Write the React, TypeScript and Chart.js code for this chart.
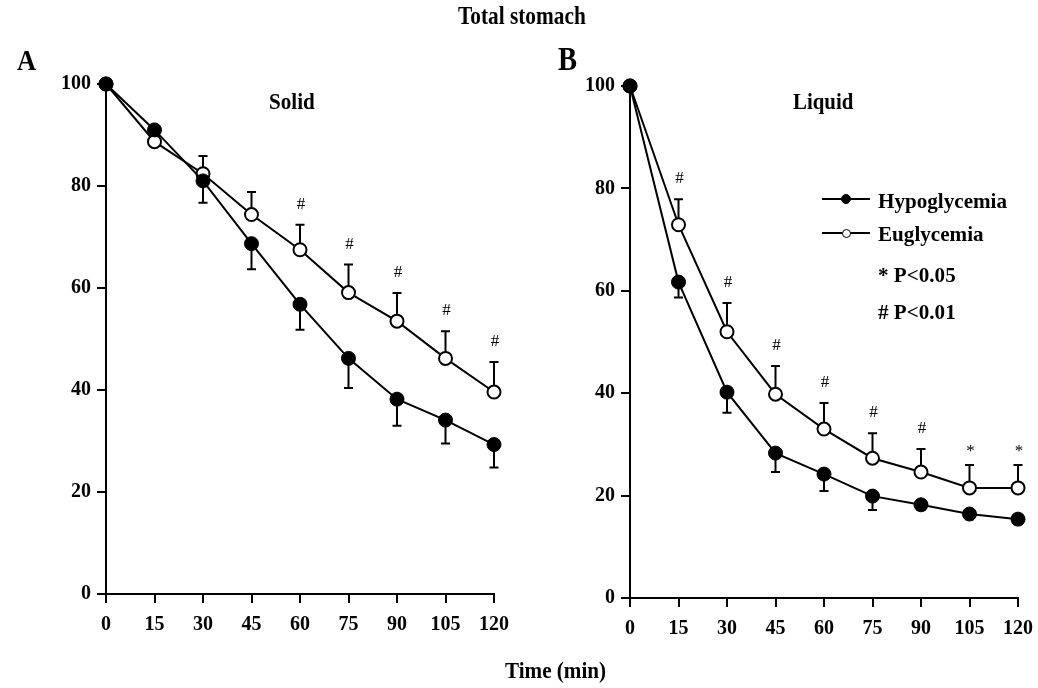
import React, { useEffect, useRef } from 'react';
import { Chart, registerables } from 'chart.js';
Chart.register(...registerables);

const times = [0, 15, 30, 45, 60, 75, 90, 105, 120];
const yTicks = [0, 20, 40, 60, 80, 100];

const solidHypo = [100, 91, 81, 68.7, 56.8, 46.2, 38.2, 34.1, 29.3];
const solidHypoErr = [0, 1, 4.3, 5, 5, 5.8, 5.2, 4.6, 4.5];
const solidEu = [100, 88.7, 82.4, 74.4, 67.5, 59.1, 53.5, 46.2, 39.6];
const solidEuErr = [0, 1, 3.5, 4.4, 4.9, 5.5, 5.5, 5.3, 5.9];
const solidSig = ['', '', '', '', '#', '#', '#', '#', '#'];

const liquidHypo = [100, 61.7, 40.2, 28.3, 24.2, 19.9, 18.2, 16.4, 15.4];
const liquidHypoErr = [0, 3, 4, 3.7, 3.3, 2.7, 1, 1, 1];
const liquidEu = [100, 72.9, 52, 39.8, 33, 27.3, 24.6, 21.5, 21.5];
const liquidEuErr = [0, 5, 5.6, 5.5, 5.1, 4.9, 4.5, 4.5, 4.5];
const liquidSig = ['', '#', '#', '#', '#', '#', '#', '*', '*'];

const seriesNames = ['Hypoglycemia', 'Euglycemia'];
const sigNotes = ['* P<0.05', '# P<0.01'];

const SERIF = '"Liberation Serif", "Times New Roman", serif';
const CW = 560;
const CH = 688;

type PanelProps = {
  left: number;
  area: { left: number; right: number; top: number; bottom: number };
  hypo: number[];
  hypoErr: number[];
  eu: number[];
  euErr: number[];
  sig: string[];
};

function Panel({ left, area, hypo, hypoErr, eu, euErr, sig }: PanelProps) {
  const ref = useRef<HTMLCanvasElement | null>(null);
  useEffect(() => {
    if (!ref.current) return;
    const xH = 50;
    const errPlugin = {
      id: 'errbars',
      beforeDatasetsDraw(chart: any) {
        const { ctx } = chart;
        const x = chart.scales.x;
        const y = chart.scales.y;
        ctx.save();
        ctx.strokeStyle = '#000';
        ctx.lineWidth = 2;
        times.forEach((t, i) => {
          const px = x.getPixelForValue(t);
          if (hypoErr[i] > 0) {
            const y0 = y.getPixelForValue(hypo[i]);
            const y1 = y.getPixelForValue(hypo[i] - hypoErr[i]);
            ctx.beginPath();
            ctx.moveTo(px, y0);
            ctx.lineTo(px, y1);
            ctx.moveTo(px - 4.5, y1);
            ctx.lineTo(px + 4.5, y1);
            ctx.stroke();
          }
          if (euErr[i] > 0) {
            const y0 = y.getPixelForValue(eu[i]);
            const y1 = y.getPixelForValue(eu[i] + euErr[i]);
            ctx.beginPath();
            ctx.moveTo(px, y0);
            ctx.lineTo(px, y1);
            ctx.moveTo(px - 4.5, y1);
            ctx.lineTo(px + 4.5, y1);
            ctx.stroke();
            if (sig[i]) {
              ctx.fillStyle = '#000';
              ctx.font = `17px ${SERIF}`;
              ctx.textAlign = 'center';
              ctx.textBaseline = 'alphabetic';
              ctx.fillText(sig[i], px + 1, y1 - (sig[i] === '*' ? 9 : 16));
            }
          }
        });
        ctx.restore();
      },
    };
    const tickFont = { family: SERIF, size: 20, weight: 'bold' as const };
    const chart = new Chart(ref.current, {
      type: 'line',
      data: {
        datasets: [
          {
            label: seriesNames[0],
            data: times.map((t, i) => ({ x: t, y: hypo[i] })),
            borderColor: '#000',
            borderWidth: 2,
            pointRadius: 7,
            pointBackgroundColor: '#000',
            pointBorderColor: '#000',
            pointBorderWidth: 1,
            tension: 0,
            clip: false as any,
          },
          {
            label: seriesNames[1],
            data: times.map((t, i) => ({ x: t, y: eu[i] })),
            borderColor: '#000',
            borderWidth: 2,
            pointRadius: 6.5,
            pointBackgroundColor: '#fff',
            pointBorderColor: '#000',
            pointBorderWidth: 2,
            tension: 0,
            clip: false as any,
          },
        ],
      },
      options: {
        responsive: false,
        animation: false,
        devicePixelRatio: 1,
        events: [],
        layout: {
          padding: {
            left: 0,
            top: area.top,
            right: CW - area.right,
            bottom: CH - area.bottom - xH,
          },
        },
        plugins: { legend: { display: false }, tooltip: { enabled: false }, title: { display: false } },
        scales: {
          x: {
            type: 'linear',
            min: 0,
            max: 120,
            afterFit: (s: any) => {
              s.height = xH;
            },
            afterBuildTicks: (s: any) => {
              s.ticks = times.map((v) => ({ value: v }));
            },
            ticks: { font: tickFont, color: '#000', padding: 10, maxRotation: 0, autoSkip: false },
            grid: { display: true, drawOnChartArea: false, drawTicks: true, tickLength: 9, color: '#000', lineWidth: 2 },
            border: { display: true, color: '#000', width: 2 },
          },
          y: {
            type: 'linear',
            min: 0,
            max: 100,
            afterFit: (s: any) => {
              s.width = area.left;
            },
            afterBuildTicks: (s: any) => {
              s.ticks = yTicks.map((v) => ({ value: v }));
            },
            ticks: { font: tickFont, color: '#000', padding: 6 },
            grid: { display: true, drawOnChartArea: false, drawTicks: true, tickLength: 9, color: '#000', lineWidth: 2 },
            border: { display: true, color: '#000', width: 2 },
          },
        },
      },
      plugins: [errPlugin],
    });
    return () => chart.destroy();
  }, []);
  return (
    <canvas
      ref={ref}
      width={CW}
      height={CH}
      style={{ position: 'absolute', left, top: 0, width: CW, height: CH }}
    />
  );
}

function Label({ text, x, base, size, sx }: { text: string; x: number; base: number; size: number; sx: number }) {
  return (
    <div
      style={{
        position: 'absolute',
        left: x,
        top: base - 0.8375 * size,
        fontFamily: SERIF,
        fontWeight: 'bold',
        fontSize: size,
        lineHeight: 1,
        whiteSpace: 'nowrap',
        color: '#000',
        transform: `scaleX(${sx})`,
        transformOrigin: 'left top',
      }}
    >
      {text}
    </div>
  );
}

function LegendMark({ y, filled }: { y: number; filled: boolean }) {
  const r = filled ? 5 : 4.5;
  return (
    <>
      <div style={{ position: 'absolute', left: 822, top: y - 1, width: 48, height: 2, background: '#000' }} />
      <div
        style={{
          position: 'absolute',
          left: 846 - r,
          top: y - r,
          width: r * 2,
          height: r * 2,
          boxSizing: 'border-box',
          borderRadius: '50%',
          border: '1.5px solid #000',
          background: filled ? '#000' : '#fff',
        }}
      />
    </>
  );
}

export default function App() {
  return (
    <div style={{ position: 'absolute', left: 0, top: 0, width: 1038, height: 688, background: '#fff', overflow: 'hidden' }}>
      <Panel
        left={0}
        area={{ left: 106, right: 494, top: 84, bottom: 594 }}
        hypo={solidHypo}
        hypoErr={solidHypoErr}
        eu={solidEu}
        euErr={solidEuErr}
        sig={solidSig}
      />
      <Panel
        left={519}
        area={{ left: 111, right: 499, top: 86, bottom: 598 }}
        hypo={liquidHypo}
        hypoErr={liquidHypoErr}
        eu={liquidEu}
        euErr={liquidEuErr}
        sig={liquidSig}
      />
      <div style={{ position: 'absolute', left: 0, top: 0, width: 1038, height: 688, pointerEvents: 'none' }}>
        <Label text="Total stomach" x={458} base={25} size={26} sx={0.82} />
        <Label text="A" x={17} base={70} size={30} sx={0.88} />
        <Label text="B" x={558} base={70} size={34} sx={0.84} />
        <Label text="Solid" x={269} base={109} size={24} sx={0.88} />
        <Label text="Liquid" x={793} base={109} size={24} sx={0.87} />
        <Label text="Time (min)" x={505} base={678} size={24} sx={0.88} />
        <LegendMark y={199} filled={true} />
        <LegendMark y={233} filled={false} />
        <Label text={seriesNames[0]} x={878} base={208} size={22} sx={0.96} />
        <Label text={seriesNames[1]} x={878} base={241} size={22} sx={0.96} />
        <Label text={sigNotes[0]} x={878} base={282} size={22} sx={0.96} />
        <Label text={sigNotes[1]} x={878} base={319} size={22} sx={0.96} />
      </div>
    </div>
  );
}
